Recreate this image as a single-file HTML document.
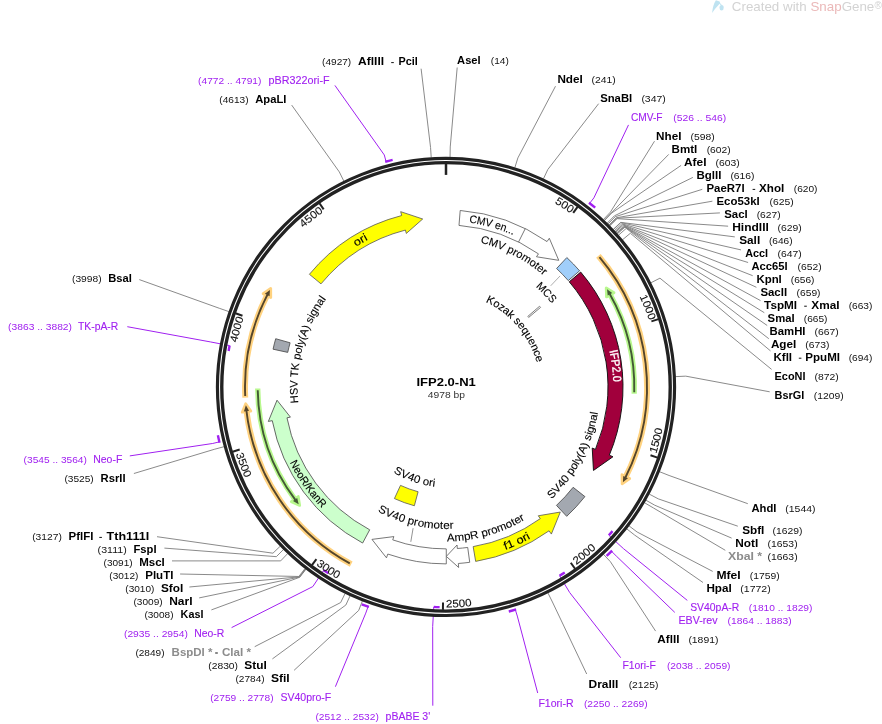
<!DOCTYPE html>
<html><head><meta charset="utf-8"><style>
html,body{margin:0;padding:0;background:#fff;}
svg{display:block;font-family:"Liberation Sans", sans-serif;will-change:transform;}
text{stroke-width:0.12px;paint-order:stroke;}
</style></head><body>
<svg width="882" height="724" viewBox="0 0 882 724">
<defs>
<path id="tp1" d="M 531.57 191.19 A 213.6 213.6 0 0 1 590.72 229.8"/>
<path id="tp2" d="M 626.2 272.22 A 213.6 213.6 0 0 1 655.91 347.35"/>
<path id="tp3" d="M 646.17 479.61 A 220.6 220.6 0 0 0 666.13 401.29"/>
<path id="tp4" d="M 552.91 579.86 A 220.6 220.6 0 0 0 615.24 528.4"/>
<path id="tp5" d="M 418.47 605.78 A 220.6 220.6 0 0 0 499.15 601"/>
<path id="tp6" d="M 294.63 547.37 A 220.6 220.6 0 0 0 362.59 591.12"/>
<path id="tp7" d="M 229.1 427.15 A 220.6 220.6 0 0 0 258.16 502.57"/>
<path id="tp8" d="M 233.05 370.21 A 213.6 213.6 0 0 1 254.49 292.31"/>
<path id="tp9" d="M 283.92 247.78 A 213.6 213.6 0 0 1 347.18 197.53"/>
<path id="tp10" d="M 435.27 221.25 A 166 166 0 0 1 542.41 251.76"/>
<path id="tp11" d="M 438.92 239.07 A 148 148 0 0 1 570.6 307.03"/>
<path id="tp12" d="M 514.15 270.94 A 134.5 134.5 0 0 1 566.01 326.17"/>
<path id="tp13" d="M 442.26 293.17 A 93.8 93.8 0 0 1 537.65 406.86"/>
<path id="tp14" d="M 600.58 322.65 A 167.4 167.4 0 0 1 611.62 411.27"/>
<path id="tp15" d="M 510.09 526.93 A 154 154 0 0 0 598.1 362.8"/>
<path id="tp16" d="M 477.91 557.44 A 173.5 173.5 0 0 0 554.25 522.49"/>
<path id="tp17" d="M 403.04 535.31 A 154.5 154.5 0 0 0 559.63 491.59"/>
<path id="tp18" d="M 343.05 484.7 A 142 142 0 0 0 496.12 519.76"/>
<path id="tp19" d="M 368.49 450.87 A 100.5 100.5 0 0 0 467.7 485.03"/>
<path id="tp20" d="M 277.44 427.99 A 173.5 173.5 0 0 0 350.24 531.58"/>
<path id="tp21" d="M 313.3 453.55 A 148.5 148.5 0 0 1 364.4 262.83"/>
<path id="tp22" d="M 336.69 261.31 A 166.5 166.5 0 0 1 390.25 230.01"/>
</defs>
<polyline points="450.06 157.14 450.24 146.94 457.2 67.5" fill="none" stroke="#7d7d7d" stroke-width="0.9"/>
<polyline points="514.83 167.65 517.88 157.92 555.5 86.2" fill="none" stroke="#7d7d7d" stroke-width="0.9"/>
<polyline points="543.46 178.79 547.79 169.55 598.6 103.7" fill="none" stroke="#7d7d7d" stroke-width="0.9"/>
<polyline points="603.44 219.51 610.43 212.08 654.5 141.2" fill="none" stroke="#7d7d7d" stroke-width="0.9"/>
<polyline points="604.29 220.31 611.31 212.91 668.7 154.4" fill="none" stroke="#7d7d7d" stroke-width="0.9"/>
<polyline points="604.5 220.51 611.53 213.12 681.1 165.4" fill="none" stroke="#7d7d7d" stroke-width="0.9"/>
<polyline points="607.21 223.13 614.36 215.86 692.9 177.4" fill="none" stroke="#7d7d7d" stroke-width="0.9"/>
<polyline points="608.03 223.95 615.22 216.71 702.3 189.3" fill="none" stroke="#7d7d7d" stroke-width="0.9"/>
<polyline points="609.06 224.97 616.29 217.78 712.4 201.2" fill="none" stroke="#7d7d7d" stroke-width="0.9"/>
<polyline points="609.46 225.38 616.72 218.21 719.9 212.9" fill="none" stroke="#7d7d7d" stroke-width="0.9"/>
<polyline points="609.87 225.8 617.15 218.65 728.1 226.2" fill="none" stroke="#7d7d7d" stroke-width="0.9"/>
<polyline points="613.29 229.35 620.72 222.36 734.8 236.9" fill="none" stroke="#7d7d7d" stroke-width="0.9"/>
<polyline points="613.49 229.56 620.92 222.58 741 249.9" fill="none" stroke="#7d7d7d" stroke-width="0.9"/>
<polyline points="614.48 230.62 621.96 223.68 748.1 262.5" fill="none" stroke="#7d7d7d" stroke-width="0.9"/>
<polyline points="615.27 231.47 622.78 224.58 752.7 275.7" fill="none" stroke="#7d7d7d" stroke-width="0.9"/>
<polyline points="615.85 232.12 623.39 225.25 756.4 287.3" fill="none" stroke="#7d7d7d" stroke-width="0.9"/>
<polyline points="616.63 232.98 624.21 226.14 760.5 300.6" fill="none" stroke="#7d7d7d" stroke-width="0.9"/>
<polyline points="617.02 233.41 624.61 226.59 764.3 312.7" fill="none" stroke="#7d7d7d" stroke-width="0.9"/>
<polyline points="617.41 233.84 625.02 227.05 767.2 325.5" fill="none" stroke="#7d7d7d" stroke-width="0.9"/>
<polyline points="618.56 235.14 626.22 228.41 768.8 338.7" fill="none" stroke="#7d7d7d" stroke-width="0.9"/>
<polyline points="622.52 239.77 630.36 233.24 770.5 350.9" fill="none" stroke="#7d7d7d" stroke-width="0.9"/>
<polyline points="650.87 282.79 659.96 278.17 771.6 369.4" fill="none" stroke="#7d7d7d" stroke-width="0.9"/>
<polyline points="675.57 376.61 685.76 376.15 769.7 391.8" fill="none" stroke="#7d7d7d" stroke-width="0.9"/>
<polyline points="659.57 471.72 669.05 475.48 747.8 503.7" fill="none" stroke="#7d7d7d" stroke-width="0.9"/>
<polyline points="649.26 494.1 658.29 498.86 737.8 526.2" fill="none" stroke="#7d7d7d" stroke-width="0.9"/>
<polyline points="645.92 500.21 654.8 505.23 731.6 538.1" fill="none" stroke="#7d7d7d" stroke-width="0.9"/>
<polyline points="644.48 502.72 653.29 507.86 725.3 550.3" fill="none" stroke="#7d7d7d" stroke-width="0.9"/>
<polyline points="629.02 525.86 637.15 532.03 712.7 571.4" fill="none" stroke="#7d7d7d" stroke-width="0.9"/>
<polyline points="626.72 528.85 634.74 535.15 703 582.5" fill="none" stroke="#7d7d7d" stroke-width="0.9"/>
<polyline points="603.44 554.29 610.43 561.72 655.6 631.1" fill="none" stroke="#7d7d7d" stroke-width="0.9"/>
<polyline points="547.9 592.87 552.43 602.01 586.7 674" fill="none" stroke="#7d7d7d" stroke-width="0.9"/>
<polyline points="362.4 600.95 358.69 610.45 294.1 670.3" fill="none" stroke="#7d7d7d" stroke-width="0.9"/>
<polyline points="350.12 595.74 345.86 605.01 272.4 658.9" fill="none" stroke="#7d7d7d" stroke-width="0.9"/>
<polyline points="345.14 593.38 340.66 602.55 254.7 646.7" fill="none" stroke="#7d7d7d" stroke-width="0.9"/>
<polyline points="306 569.13 299.79 577.22 211.4 609.9" fill="none" stroke="#7d7d7d" stroke-width="0.9"/>
<polyline points="305.77 568.95 299.55 577.04 199.2 597.9" fill="none" stroke="#7d7d7d" stroke-width="0.9"/>
<polyline points="305.54 568.78 299.31 576.85 189.4 587" fill="none" stroke="#7d7d7d" stroke-width="0.9"/>
<polyline points="305.08 568.42 298.83 576.48 180.1 574" fill="none" stroke="#7d7d7d" stroke-width="0.9"/>
<polyline points="287.71 553.49 280.69 560.89 172 560.9" fill="none" stroke="#7d7d7d" stroke-width="0.9"/>
<polyline points="283.56 549.44 276.35 556.66 164.4 548.1" fill="none" stroke="#7d7d7d" stroke-width="0.9"/>
<polyline points="280.31 546.13 272.95 553.2 157 536.7" fill="none" stroke="#7d7d7d" stroke-width="0.9"/>
<polyline points="224.11 446.68 214.26 449.33 133.9 473.5" fill="none" stroke="#7d7d7d" stroke-width="0.9"/>
<polyline points="228.89 311.6 219.25 308.26 139.3 279.6" fill="none" stroke="#7d7d7d" stroke-width="0.9"/>
<polyline points="343.84 181.06 339.3 171.92 291.7 105.1" fill="none" stroke="#7d7d7d" stroke-width="0.9"/>
<polyline points="431.22 157.58 430.56 147.4 421.1 68.7" fill="none" stroke="#7d7d7d" stroke-width="0.9"/>
<polyline points="589.7 203.23 593.89 197.88 628.5 124.9" fill="none" stroke="#A020F0" stroke-width="1.0"/>
<path d="M 588.99 202.68 A 233.2 233.2 0 0 1 595.21 207.68" fill="none" stroke="#A020F0" stroke-width="2.4"/>
<polyline points="608.83 535.28 623.39 548.55 687.3 600.4" fill="none" stroke="#A020F0" stroke-width="1.0"/>
<path d="M 612.52 531.13 A 220.3 220.3 0 0 1 608.83 535.28" fill="none" stroke="#A020F0" stroke-width="2.4"/>
<polyline points="611.47 551.22 616.29 556.02 674.8 612.4" fill="none" stroke="#A020F0" stroke-width="1.0"/>
<path d="M 612.1 550.58 A 233.2 233.2 0 0 1 606.62 555.97" fill="none" stroke="#A020F0" stroke-width="2.4"/>
<polyline points="559.54 575.69 569.7 592.57 620.7 657.7" fill="none" stroke="#A020F0" stroke-width="1.0"/>
<path d="M 564.74 572.46 A 220.3 220.3 0 0 1 559.54 575.69" fill="none" stroke="#A020F0" stroke-width="2.4"/>
<polyline points="515.29 609.57 517.31 616.06 537.7 693" fill="none" stroke="#A020F0" stroke-width="1.0"/>
<path d="M 516.14 609.3 A 233.2 233.2 0 0 1 508.78 611.49" fill="none" stroke="#A020F0" stroke-width="2.4"/>
<polyline points="433.77 606.86 432.68 626.53 432.8 705.7" fill="none" stroke="#A020F0" stroke-width="1.0"/>
<path d="M 439.61 607.11 A 220.3 220.3 0 0 1 433.77 606.86" fill="none" stroke="#A020F0" stroke-width="2.4"/>
<polyline points="368.06 606.69 365.78 613.1 335.4 686.7" fill="none" stroke="#A020F0" stroke-width="1.0"/>
<path d="M 368.91 606.99 A 233.2 233.2 0 0 1 361.69 604.33" fill="none" stroke="#A020F0" stroke-width="2.4"/>
<polyline points="323.77 570.18 312.84 586.57 231.6 627.6" fill="none" stroke="#A020F0" stroke-width="1.0"/>
<path d="M 328.43 573.21 A 220.3 220.3 0 0 1 323.77 570.18" fill="none" stroke="#A020F0" stroke-width="2.4"/>
<polyline points="219.37 441.86 212.76 443.46 129.8 455.9" fill="none" stroke="#A020F0" stroke-width="1.0"/>
<path d="M 219.58 442.74 A 233.2 233.2 0 0 1 217.87 435.24" fill="none" stroke="#A020F0" stroke-width="2.4"/>
<polyline points="229.61 345.58 210.26 341.88 127.3 326.7" fill="none" stroke="#A020F0" stroke-width="1.0"/>
<path d="M 228.64 351.05 A 220.3 220.3 0 0 1 229.61 345.58" fill="none" stroke="#A020F0" stroke-width="2.4"/>
<polyline points="386.05 161.54 384.3 154.97 334.9 85.4" fill="none" stroke="#A020F0" stroke-width="1.0"/>
<path d="M 385.18 161.77 A 233.2 233.2 0 0 1 392.63 159.89" fill="none" stroke="#A020F0" stroke-width="2.4"/>
<circle cx="446" cy="386.9" r="226.35" fill="none" stroke="#222" stroke-width="7.6"/>
<circle cx="446" cy="386.9" r="226.45" fill="none" stroke="#fff" stroke-width="1.05"/>
<line x1="446" y1="163.9" x2="446" y2="174.9" stroke="#222" stroke-width="2.5"/>
<line x1="577.58" y1="206.85" x2="573.21" y2="212.83" stroke="#222" stroke-width="2.0"/>
<text font-size="10.8" fill="#111" stroke="#111"><textPath href="#tp1" startOffset="50%" text-anchor="middle" textLength="19.35" lengthAdjust="spacingAndGlyphs">500</textPath></text>
<line x1="658.47" y1="319.17" x2="651.41" y2="321.42" stroke="#222" stroke-width="2.0"/>
<text font-size="10.8" fill="#111" stroke="#111"><textPath href="#tp2" startOffset="50%" text-anchor="middle" textLength="25.8" lengthAdjust="spacingAndGlyphs">1000</textPath></text>
<line x1="657.5" y1="457.58" x2="650.49" y2="455.23" stroke="#222" stroke-width="2.0"/>
<text font-size="10.8" fill="#111" stroke="#111"><textPath href="#tp3" startOffset="50%" text-anchor="middle" textLength="25.8" lengthAdjust="spacingAndGlyphs">1500</textPath></text>
<line x1="575.06" y1="568.76" x2="570.78" y2="562.72" stroke="#222" stroke-width="2.0"/>
<text font-size="10.8" fill="#111" stroke="#111"><textPath href="#tp4" startOffset="50%" text-anchor="middle" textLength="25.8" lengthAdjust="spacingAndGlyphs">2000</textPath></text>
<line x1="442.9" y1="609.88" x2="443.01" y2="602.48" stroke="#222" stroke-width="2.0"/>
<text font-size="10.8" fill="#111" stroke="#111"><textPath href="#tp5" startOffset="50%" text-anchor="middle" textLength="25.8" lengthAdjust="spacingAndGlyphs">2500</textPath></text>
<line x1="311.94" y1="565.1" x2="316.39" y2="559.19" stroke="#222" stroke-width="2.0"/>
<text font-size="10.8" fill="#111" stroke="#111"><textPath href="#tp6" startOffset="50%" text-anchor="middle" textLength="25.8" lengthAdjust="spacingAndGlyphs">3000</textPath></text>
<line x1="232.62" y1="451.68" x2="239.7" y2="449.53" stroke="#222" stroke-width="2.0"/>
<text font-size="10.8" fill="#111" stroke="#111"><textPath href="#tp7" startOffset="50%" text-anchor="middle" textLength="25.8" lengthAdjust="spacingAndGlyphs">3500</textPath></text>
<line x1="235.5" y1="313.3" x2="242.48" y2="315.74" stroke="#222" stroke-width="2.0"/>
<text font-size="10.8" fill="#111" stroke="#111"><textPath href="#tp8" startOffset="50%" text-anchor="middle" textLength="25.8" lengthAdjust="spacingAndGlyphs">4000</textPath></text>
<line x1="319.47" y1="203.27" x2="323.67" y2="209.36" stroke="#222" stroke-width="2.0"/>
<text font-size="10.8" fill="#111" stroke="#111"><textPath href="#tp9" startOffset="50%" text-anchor="middle" textLength="25.8" lengthAdjust="spacingAndGlyphs">4500</textPath></text>
<path d="M 598.39 255.84 A 201 201 0 0 1 625.85 476.65" fill="none" stroke="#FFD27F" stroke-width="5.9"/>
<path d="M 629.7 478.57 L 622.14 483.73 L 622 474.73 Z" fill="#FFD27F" stroke="#FFD27F" stroke-width="2.8" stroke-linejoin="round"/>
<path d="M 599.43 257.06 A 201 201 0 0 1 625.4 477.54" fill="none" stroke="#54452B" stroke-width="1.9"/>
<path d="M 627.91 478.35 L 622.9 482.33 L 623.26 476.02 Z" fill="#54452B"/>
<path d="M 351.19 564.13 A 201 201 0 0 1 246.53 411.68" fill="none" stroke="#FFD27F" stroke-width="5.9"/>
<path d="M 242.27 412.21 L 245.7 403.72 L 250.8 411.15 Z" fill="#FFD27F" stroke="#FFD27F" stroke-width="2.8" stroke-linejoin="round"/>
<path d="M 349.78 563.37 A 201 201 0 0 1 246.41 410.68" fill="none" stroke="#54452B" stroke-width="1.9"/>
<path d="M 243.88 411.39 L 245.85 405.31 L 249.04 410.77 Z" fill="#54452B"/>
<path d="M 245.29 397.62 A 201 201 0 0 1 266.94 295.59" fill="none" stroke="#FFD27F" stroke-width="5.9"/>
<path d="M 263.11 293.63 L 270.71 288.53 L 270.77 297.54 Z" fill="#FFD27F" stroke="#FFD27F" stroke-width="2.8" stroke-linejoin="round"/>
<path d="M 245.21 396.02 A 201 201 0 0 1 267.4 294.7" fill="none" stroke="#54452B" stroke-width="1.9"/>
<path d="M 264.9 293.86 L 269.94 289.93 L 269.52 296.24 Z" fill="#54452B"/>
<path d="M 634.18 393.76 A 188.3 188.3 0 0 0 610.27 294.85" fill="none" stroke="#B8F88E" stroke-width="5.3"/>
<path d="M 614.02 292.75 L 606.21 287.95 L 606.51 296.95 Z" fill="#B8F88E" stroke="#B8F88E" stroke-width="2.8" stroke-linejoin="round"/>
<path d="M 634.23 392.16 A 188.3 188.3 0 0 0 609.77 293.98" fill="none" stroke="#435A35" stroke-width="1.9"/>
<path d="M 612.24 293.05 L 607.04 289.32 L 607.71 295.6 Z" fill="#435A35"/>
<path d="M 257.71 388.59 A 188.3 188.3 0 0 0 294.76 499.08" fill="none" stroke="#B8F88E" stroke-width="5.3"/>
<path d="M 291.31 501.64 L 299.66 505.4 L 298.22 496.52 Z" fill="#B8F88E" stroke="#B8F88E" stroke-width="2.8" stroke-linejoin="round"/>
<path d="M 257.73 390.19 A 188.3 188.3 0 0 0 295.36 499.88" fill="none" stroke="#435A35" stroke-width="1.9"/>
<path d="M 293.04 501.12 L 298.66 504.15 L 297.2 498 Z" fill="#435A35"/>
<path d="M 460.2 210.47 A 177 177 0 0 1 547.02 241.56 L 549.3 238.27 L 558.76 260.34 L 536.46 256.75 L 538.46 253.87 A 162 162 0 0 0 458.99 225.42 Z" fill="#fff" stroke="#555" stroke-width="0.8" stroke-linejoin="miter"/>
<line x1="518.54" y1="242.05" x2="525.25" y2="228.63" stroke="#555" stroke-width="0.8"/>
<path d="M 566.83 257.56 A 177 177 0 0 1 579.58 270.78 L 568.26 280.62 A 162 162 0 0 0 556.59 268.52 Z" fill="#A0CEFA" stroke="#444" stroke-width="0.8" stroke-linejoin="miter"/>
<path d="M 580.69 272.07 A 177 177 0 0 1 609.29 455.21 L 612.98 456.75 L 593.48 470.44 L 592.22 448.07 L 595.45 449.42 A 162 162 0 0 0 569.28 281.8 Z" fill="#A1003C" stroke="#111" stroke-width="0.95" stroke-linejoin="miter"/>
<path d="M 584.91 496.6 A 177 177 0 0 1 566.71 516.35 L 556.48 505.38 A 162 162 0 0 0 573.13 487.3 Z" fill="#A3A8B0" stroke="#444" stroke-width="0.8" stroke-linejoin="miter"/>
<path d="M 475.67 561.4 A 177 177 0 0 0 549.04 530.82 L 551.36 534.07 L 560.29 512.07 L 538.27 515.78 L 540.3 518.62 A 162 162 0 0 1 473.16 546.61 Z" fill="#FFFF00" stroke="#555" stroke-width="0.8" stroke-linejoin="miter"/>
<path d="M 469.72 562.3 A 177 177 0 0 1 458.35 563.47 L 458.63 567.46 L 446.3 556.4 L 457.06 545.01 L 457.3 548.51 A 162 162 0 0 0 467.71 547.44 Z" fill="#fff" stroke="#555" stroke-width="0.8" stroke-linejoin="miter"/>
<path d="M 446.31 563.9 A 177 177 0 0 1 387.79 554.05 L 386.48 557.83 L 371.96 539.38 L 393.87 536.58 L 392.72 539.89 A 162 162 0 0 0 446.28 548.9 Z" fill="#fff" stroke="#555" stroke-width="0.8" stroke-linejoin="miter"/>
<path d="M 362.63 543.04 A 177 177 0 0 1 272.25 420.67 L 268.33 421.44 L 277.02 400.2 L 290.41 417.14 L 286.98 417.81 A 162 162 0 0 0 369.7 529.8 Z" fill="#CCFFCC" stroke="#444" stroke-width="0.8" stroke-linejoin="miter"/>
<path d="M 273.06 349.19 A 177 177 0 0 1 275.69 338.71 L 290.12 342.79 A 162 162 0 0 0 287.72 352.39 Z" fill="#A3A8B0" stroke="#444" stroke-width="0.8" stroke-linejoin="miter"/>
<path d="M 309.42 274.31 A 177 177 0 0 1 401.68 215.54 L 400.68 211.67 L 422.7 219.01 L 406.31 233.45 L 405.44 230.06 A 162 162 0 0 0 321 283.86 Z" fill="#FFFF00" stroke="#555" stroke-width="0.8" stroke-linejoin="miter"/>
<path d="M 414.37 505.76 A 123 123 0 0 1 394.41 498.56 L 400.49 485.39 A 108.5 108.5 0 0 0 418.1 491.75 Z" fill="#FFFF00" stroke="#555" stroke-width="0.8" stroke-linejoin="miter"/>
<path d="M 539.56 306.28 A 123.5 123.5 0 0 1 540.54 307.43 L 528.67 317.41 A 108 108 0 0 0 527.82 316.4 Z" fill="#fff" stroke="#666" stroke-width="0.85" stroke-linejoin="miter"/>
<line x1="550.7" y1="285.8" x2="560.1" y2="275.9" stroke="#999" stroke-width="0.8"/>
<line x1="410.8" y1="541.8" x2="413.1" y2="528.2" stroke="#777" stroke-width="0.8"/>
<text font-size="11" stroke="#000"><textPath href="#tp10" startOffset="50%" text-anchor="middle" textLength="46" lengthAdjust="spacingAndGlyphs">CMV en...</textPath></text>
<text font-size="11" stroke="#000"><textPath href="#tp11" startOffset="50%" text-anchor="middle" textLength="72" lengthAdjust="spacingAndGlyphs">CMV promoter</textPath></text>
<text font-size="11" stroke="#000"><textPath href="#tp12" startOffset="50%" text-anchor="middle" textLength="23" lengthAdjust="spacingAndGlyphs">MCS</textPath></text>
<text font-size="11" stroke="#000"><textPath href="#tp13" startOffset="50%" text-anchor="middle" textLength="82" lengthAdjust="spacingAndGlyphs">Kozak sequence</textPath></text>
<text font-size="11.6" fill="#ffffff" stroke="#ffffff" style="stroke-width:0.35px"><textPath href="#tp14" startOffset="50%" text-anchor="middle" textLength="31.5" lengthAdjust="spacingAndGlyphs">IFP2.0</textPath></text>
<text font-size="11" stroke="#000"><textPath href="#tp15" startOffset="50%" text-anchor="middle" textLength="100" lengthAdjust="spacingAndGlyphs">SV40 poly(A) signal</textPath></text>
<text font-size="11" stroke="#000"><textPath href="#tp16" startOffset="50%" text-anchor="middle" textLength="28" lengthAdjust="spacingAndGlyphs">f1 ori</textPath></text>
<text font-size="11" stroke="#000"><textPath href="#tp17" startOffset="50%" text-anchor="middle" textLength="82" lengthAdjust="spacingAndGlyphs">AmpR promoter</textPath></text>
<text font-size="11" stroke="#000"><textPath href="#tp18" startOffset="50%" text-anchor="middle" textLength="79" lengthAdjust="spacingAndGlyphs">SV40 promoter</textPath></text>
<text font-size="11" stroke="#000"><textPath href="#tp19" startOffset="50%" text-anchor="middle" textLength="44" lengthAdjust="spacingAndGlyphs">SV40 ori</textPath></text>
<text font-size="11" stroke="#000"><textPath href="#tp20" startOffset="50%" text-anchor="middle" textLength="56" lengthAdjust="spacingAndGlyphs">NeoR/KanR</textPath></text>
<text font-size="11" stroke="#000"><textPath href="#tp21" startOffset="50%" text-anchor="middle" textLength="110" lengthAdjust="spacingAndGlyphs">HSV TK poly(A) signal</textPath></text>
<text font-size="11" stroke="#000"><textPath href="#tp22" startOffset="50%" text-anchor="middle" textLength="14" lengthAdjust="spacingAndGlyphs">ori</textPath></text>
<text x="457.1" y="63.9" font-size="10.7" font-weight="bold" textLength="23.5" lengthAdjust="spacingAndGlyphs">AseI</text>
<text x="490.8" y="63.9" font-size="9.3" fill="#111" textLength="18" lengthAdjust="spacingAndGlyphs">(14)</text>
<text x="557.4" y="83.2" font-size="10.7" font-weight="bold" textLength="25.4" lengthAdjust="spacingAndGlyphs">NdeI</text>
<text x="591.5" y="83.2" font-size="9.3" fill="#111" textLength="24.2" lengthAdjust="spacingAndGlyphs">(241)</text>
<text x="600.2" y="102.1" font-size="10.7" font-weight="bold" textLength="32" lengthAdjust="spacingAndGlyphs">SnaBI</text>
<text x="641.4" y="102.1" font-size="9.3" fill="#111" textLength="24.4" lengthAdjust="spacingAndGlyphs">(347)</text>
<text x="656.1" y="139.6" font-size="10.7" font-weight="bold" textLength="25.4" lengthAdjust="spacingAndGlyphs">NheI</text>
<text x="690.5" y="139.6" font-size="9.3" fill="#111" textLength="24.2" lengthAdjust="spacingAndGlyphs">(598)</text>
<text x="671.6" y="152.6" font-size="10.7" font-weight="bold" textLength="25.7" lengthAdjust="spacingAndGlyphs">BmtI</text>
<text x="706.7" y="152.6" font-size="9.3" fill="#111" textLength="24" lengthAdjust="spacingAndGlyphs">(602)</text>
<text x="684" y="165.7" font-size="10.7" font-weight="bold" textLength="22.5" lengthAdjust="spacingAndGlyphs">AfeI</text>
<text x="715.5" y="165.7" font-size="9.3" fill="#111" textLength="24.2" lengthAdjust="spacingAndGlyphs">(603)</text>
<text x="696.5" y="178.7" font-size="10.7" font-weight="bold" textLength="24.9" lengthAdjust="spacingAndGlyphs">BglII</text>
<text x="730.4" y="178.7" font-size="9.3" fill="#111" textLength="24.2" lengthAdjust="spacingAndGlyphs">(616)</text>
<text x="706.5" y="191.9" font-size="10.7" font-weight="bold" textLength="38.1" lengthAdjust="spacingAndGlyphs">PaeR7I</text>
<rect x="752.6" y="188.9" width="2.6" height="1.0" fill="#111"/>
<text x="759.1" y="191.9" font-size="10.7" font-weight="bold" textLength="25.2" lengthAdjust="spacingAndGlyphs">XhoI</text>
<text x="793.8" y="191.9" font-size="9.3" fill="#111" textLength="23.7" lengthAdjust="spacingAndGlyphs">(620)</text>
<text x="716.5" y="204.7" font-size="10.7" font-weight="bold" textLength="43.2" lengthAdjust="spacingAndGlyphs">Eco53kI</text>
<text x="769.6" y="204.7" font-size="9.3" fill="#111" textLength="24.2" lengthAdjust="spacingAndGlyphs">(625)</text>
<text x="724.2" y="217.6" font-size="10.7" font-weight="bold" textLength="23.5" lengthAdjust="spacingAndGlyphs">SacI</text>
<text x="756.7" y="217.6" font-size="9.3" fill="#111" textLength="23.9" lengthAdjust="spacingAndGlyphs">(627)</text>
<text x="732.2" y="230.7" font-size="10.7" font-weight="bold" textLength="36.7" lengthAdjust="spacingAndGlyphs">HindIII</text>
<text x="777.6" y="230.7" font-size="9.3" fill="#111" textLength="24.2" lengthAdjust="spacingAndGlyphs">(629)</text>
<text x="739.2" y="243.7" font-size="10.7" font-weight="bold" textLength="21" lengthAdjust="spacingAndGlyphs">SalI</text>
<text x="768.9" y="243.7" font-size="9.3" fill="#111" textLength="23.7" lengthAdjust="spacingAndGlyphs">(646)</text>
<text x="745.2" y="256.9" font-size="10.7" font-weight="bold" textLength="22.9" lengthAdjust="spacingAndGlyphs">AccI</text>
<text x="777.6" y="256.9" font-size="9.3" fill="#111" textLength="24.2" lengthAdjust="spacingAndGlyphs">(647)</text>
<text x="751.4" y="269.7" font-size="10.7" font-weight="bold" textLength="36.2" lengthAdjust="spacingAndGlyphs">Acc65I</text>
<text x="797.6" y="269.7" font-size="9.3" fill="#111" textLength="24.1" lengthAdjust="spacingAndGlyphs">(652)</text>
<text x="756.4" y="282.6" font-size="10.7" font-weight="bold" textLength="25.4" lengthAdjust="spacingAndGlyphs">KpnI</text>
<text x="790.8" y="282.6" font-size="9.3" fill="#111" textLength="23.7" lengthAdjust="spacingAndGlyphs">(656)</text>
<text x="760.4" y="295.7" font-size="10.7" font-weight="bold" textLength="26.7" lengthAdjust="spacingAndGlyphs">SacII</text>
<text x="796.6" y="295.7" font-size="9.3" fill="#111" textLength="23.9" lengthAdjust="spacingAndGlyphs">(659)</text>
<text x="764.1" y="308.7" font-size="10.7" font-weight="bold" textLength="33" lengthAdjust="spacingAndGlyphs">TspMI</text>
<rect x="804.2" y="305.7" width="2.6" height="1.0" fill="#111"/>
<text x="811.3" y="308.7" font-size="10.7" font-weight="bold" textLength="28.2" lengthAdjust="spacingAndGlyphs">XmaI</text>
<text x="848.7" y="308.7" font-size="9.3" fill="#111" textLength="23.7" lengthAdjust="spacingAndGlyphs">(663)</text>
<text x="767.6" y="321.9" font-size="10.7" font-weight="bold" textLength="27" lengthAdjust="spacingAndGlyphs">SmaI</text>
<text x="803.8" y="321.9" font-size="9.3" fill="#111" textLength="23.7" lengthAdjust="spacingAndGlyphs">(665)</text>
<text x="769.6" y="334.7" font-size="10.7" font-weight="bold" textLength="35.9" lengthAdjust="spacingAndGlyphs">BamHI</text>
<text x="814.5" y="334.7" font-size="9.3" fill="#111" textLength="24.2" lengthAdjust="spacingAndGlyphs">(667)</text>
<text x="770.9" y="347.6" font-size="10.7" font-weight="bold" textLength="25.4" lengthAdjust="spacingAndGlyphs">AgeI</text>
<text x="805.3" y="347.6" font-size="9.3" fill="#111" textLength="24.2" lengthAdjust="spacingAndGlyphs">(673)</text>
<text x="773.4" y="360.7" font-size="10.7" font-weight="bold" textLength="18.7" lengthAdjust="spacingAndGlyphs">KflI</text>
<rect x="798.8" y="357.7" width="2.6" height="1.0" fill="#111"/>
<text x="805.3" y="360.7" font-size="10.7" font-weight="bold" textLength="34.7" lengthAdjust="spacingAndGlyphs">PpuMI</text>
<text x="848.7" y="360.7" font-size="9.3" fill="#111" textLength="23.7" lengthAdjust="spacingAndGlyphs">(694)</text>
<text x="774.6" y="380" font-size="10.7" font-weight="bold" textLength="30.9" lengthAdjust="spacingAndGlyphs">EcoNI</text>
<text x="814.5" y="380" font-size="9.3" fill="#111" textLength="24.2" lengthAdjust="spacingAndGlyphs">(872)</text>
<text x="774.6" y="398.9" font-size="10.7" font-weight="bold" textLength="29.7" lengthAdjust="spacingAndGlyphs">BsrGI</text>
<text x="813.8" y="398.9" font-size="9.3" fill="#111" textLength="29.9" lengthAdjust="spacingAndGlyphs">(1209)</text>
<text x="751.4" y="512" font-size="10.7" font-weight="bold" textLength="25" lengthAdjust="spacingAndGlyphs">AhdI</text>
<text x="785.3" y="512" font-size="9.3" fill="#111" textLength="30.2" lengthAdjust="spacingAndGlyphs">(1544)</text>
<text x="742.2" y="533.7" font-size="10.7" font-weight="bold" textLength="22.2" lengthAdjust="spacingAndGlyphs">SbfI</text>
<text x="772.6" y="533.7" font-size="9.3" fill="#111" textLength="29.9" lengthAdjust="spacingAndGlyphs">(1629)</text>
<text x="735.2" y="547" font-size="10.7" font-weight="bold" textLength="23" lengthAdjust="spacingAndGlyphs">NotI</text>
<text x="767.6" y="547" font-size="9.3" fill="#111" textLength="30" lengthAdjust="spacingAndGlyphs">(1653)</text>
<text x="728" y="559.9" font-size="10.7" font-weight="bold" fill="#8c8c8c" textLength="34.1" lengthAdjust="spacingAndGlyphs">XbaI *</text>
<text x="767.6" y="559.9" font-size="9.3" fill="#111" textLength="30" lengthAdjust="spacingAndGlyphs">(1663)</text>
<text x="716.5" y="578.6" font-size="10.7" font-weight="bold" textLength="24.2" lengthAdjust="spacingAndGlyphs">MfeI</text>
<text x="749.7" y="578.6" font-size="9.3" fill="#111" textLength="29.9" lengthAdjust="spacingAndGlyphs">(1759)</text>
<text x="706.4" y="592" font-size="10.7" font-weight="bold" textLength="25.4" lengthAdjust="spacingAndGlyphs">HpaI</text>
<text x="740.3" y="592" font-size="9.3" fill="#111" textLength="30.4" lengthAdjust="spacingAndGlyphs">(1772)</text>
<text x="657.3" y="643.2" font-size="10.7" font-weight="bold" textLength="22.1" lengthAdjust="spacingAndGlyphs">AflII</text>
<text x="688.4" y="643.2" font-size="9.3" fill="#111" textLength="30" lengthAdjust="spacingAndGlyphs">(1891)</text>
<text x="588.5" y="687.7" font-size="10.7" font-weight="bold" textLength="29.9" lengthAdjust="spacingAndGlyphs">DraIII</text>
<text x="628.7" y="687.7" font-size="9.3" fill="#111" textLength="29.7" lengthAdjust="spacingAndGlyphs">(2125)</text>
<text x="235.5" y="682.2" font-size="9.3" fill="#111" textLength="29.1" lengthAdjust="spacingAndGlyphs">(2784)</text>
<text x="270.9" y="682.2" font-size="10.7" font-weight="bold" textLength="18.8" lengthAdjust="spacingAndGlyphs">SfiI</text>
<text x="208.3" y="669.1" font-size="9.3" fill="#111" textLength="29.7" lengthAdjust="spacingAndGlyphs">(2830)</text>
<text x="244.3" y="669.1" font-size="10.7" font-weight="bold" textLength="22.5" lengthAdjust="spacingAndGlyphs">StuI</text>
<text x="135.4" y="655.5" font-size="9.3" fill="#111" textLength="29.1" lengthAdjust="spacingAndGlyphs">(2849)</text>
<text x="171.6" y="655.5" font-size="10.7" font-weight="bold" fill="#8c8c8c" textLength="40.8" lengthAdjust="spacingAndGlyphs">BspDI *</text>
<rect x="215.2" y="652.5" width="2.6" height="1.0" fill="#111"/>
<text x="221.9" y="655.5" font-size="10.7" font-weight="bold" fill="#8c8c8c" textLength="29.1" lengthAdjust="spacingAndGlyphs">ClaI *</text>
<text x="144.4" y="617.9" font-size="9.3" fill="#111" textLength="29.1" lengthAdjust="spacingAndGlyphs">(3008)</text>
<text x="180.6" y="617.9" font-size="10.7" font-weight="bold" textLength="22.8" lengthAdjust="spacingAndGlyphs">KasI</text>
<text x="133.5" y="604.8" font-size="9.3" fill="#111" textLength="29.1" lengthAdjust="spacingAndGlyphs">(3009)</text>
<text x="169.2" y="604.8" font-size="10.7" font-weight="bold" textLength="23.3" lengthAdjust="spacingAndGlyphs">NarI</text>
<text x="125.3" y="592" font-size="9.3" fill="#111" textLength="29.1" lengthAdjust="spacingAndGlyphs">(3010)</text>
<text x="161" y="592" font-size="10.7" font-weight="bold" textLength="22.3" lengthAdjust="spacingAndGlyphs">SfoI</text>
<text x="109.3" y="579" font-size="9.3" fill="#111" textLength="29.1" lengthAdjust="spacingAndGlyphs">(3012)</text>
<text x="145.2" y="579" font-size="10.7" font-weight="bold" textLength="28.2" lengthAdjust="spacingAndGlyphs">PluTI</text>
<text x="103.6" y="566.2" font-size="9.3" fill="#111" textLength="29" lengthAdjust="spacingAndGlyphs">(3091)</text>
<text x="139.2" y="566.2" font-size="10.7" font-weight="bold" textLength="25.6" lengthAdjust="spacingAndGlyphs">MscI</text>
<text x="97.6" y="553.1" font-size="9.3" fill="#111" textLength="29.1" lengthAdjust="spacingAndGlyphs">(3111)</text>
<text x="133.5" y="553.1" font-size="10.7" font-weight="bold" textLength="23.1" lengthAdjust="spacingAndGlyphs">FspI</text>
<text x="32.2" y="539.9" font-size="9.3" fill="#111" textLength="29.6" lengthAdjust="spacingAndGlyphs">(3127)</text>
<text x="68.5" y="539.9" font-size="10.7" font-weight="bold" textLength="24.9" lengthAdjust="spacingAndGlyphs">PflFI</text>
<rect x="99.3" y="536.9" width="2.6" height="1.0" fill="#111"/>
<text x="106.6" y="539.9" font-size="10.7" font-weight="bold" textLength="42.6" lengthAdjust="spacingAndGlyphs">Tth111I</text>
<text x="64.4" y="481.8" font-size="9.3" fill="#111" textLength="29.3" lengthAdjust="spacingAndGlyphs">(3525)</text>
<text x="100.6" y="481.8" font-size="10.7" font-weight="bold" textLength="25" lengthAdjust="spacingAndGlyphs">RsrII</text>
<text x="72" y="281.9" font-size="9.3" fill="#111" textLength="29.6" lengthAdjust="spacingAndGlyphs">(3998)</text>
<text x="108.2" y="281.9" font-size="10.7" font-weight="bold" textLength="23.6" lengthAdjust="spacingAndGlyphs">BsaI</text>
<text x="219.3" y="103" font-size="9.3" fill="#111" textLength="29.2" lengthAdjust="spacingAndGlyphs">(4613)</text>
<text x="255.2" y="103" font-size="10.7" font-weight="bold" textLength="31.2" lengthAdjust="spacingAndGlyphs">ApaLI</text>
<text x="322.1" y="65.1" font-size="9.3" fill="#111" textLength="29.1" lengthAdjust="spacingAndGlyphs">(4927)</text>
<text x="358.1" y="65.1" font-size="10.7" font-weight="bold" textLength="26" lengthAdjust="spacingAndGlyphs">AflIII</text>
<rect x="391.2" y="62.1" width="2.6" height="1.0" fill="#111"/>
<text x="398.5" y="65.1" font-size="10.7" font-weight="bold" textLength="19.2" lengthAdjust="spacingAndGlyphs">PciI</text>
<text x="630.9" y="121.2" font-size="11" fill="#A020F0" stroke="#A020F0" textLength="31.7" lengthAdjust="spacingAndGlyphs">CMV-F</text>
<text x="673.3" y="121.2" font-size="9.3" fill="#A020F0" textLength="52.9" lengthAdjust="spacingAndGlyphs">(526 .. 546)</text>
<text x="690.2" y="610.7" font-size="11" fill="#A020F0" stroke="#A020F0" textLength="49.1" lengthAdjust="spacingAndGlyphs">SV40pA-R</text>
<text x="748.8" y="610.7" font-size="9.3" fill="#A020F0" textLength="63.6" lengthAdjust="spacingAndGlyphs">(1810 .. 1829)</text>
<text x="678.5" y="623.7" font-size="11" fill="#A020F0" stroke="#A020F0" textLength="39.1" lengthAdjust="spacingAndGlyphs">EBV-rev</text>
<text x="727.6" y="623.7" font-size="9.3" fill="#A020F0" textLength="64.1" lengthAdjust="spacingAndGlyphs">(1864 .. 1883)</text>
<text x="622.5" y="668.7" font-size="11" fill="#A020F0" stroke="#A020F0" textLength="33.4" lengthAdjust="spacingAndGlyphs">F1ori-F</text>
<text x="666.9" y="668.7" font-size="9.3" fill="#A020F0" textLength="63.6" lengthAdjust="spacingAndGlyphs">(2038 .. 2059)</text>
<text x="538.4" y="706.8" font-size="11" fill="#A020F0" stroke="#A020F0" textLength="35.1" lengthAdjust="spacingAndGlyphs">F1ori-R</text>
<text x="583.9" y="706.8" font-size="9.3" fill="#A020F0" textLength="63.8" lengthAdjust="spacingAndGlyphs">(2250 .. 2269)</text>
<text x="315.4" y="720.2" font-size="9.3" fill="#A020F0" textLength="63.4" lengthAdjust="spacingAndGlyphs">(2512 .. 2532)</text>
<text x="385.6" y="720.2" font-size="11" fill="#A020F0" stroke="#A020F0" textLength="44.6" lengthAdjust="spacingAndGlyphs">pBABE 3&#39;</text>
<text x="210.2" y="700.9" font-size="9.3" fill="#A020F0" textLength="63.4" lengthAdjust="spacingAndGlyphs">(2759 .. 2778)</text>
<text x="280.4" y="700.9" font-size="11" fill="#A020F0" stroke="#A020F0" textLength="50.9" lengthAdjust="spacingAndGlyphs">SV40pro-F</text>
<text x="124" y="637.2" font-size="9.3" fill="#A020F0" textLength="63.9" lengthAdjust="spacingAndGlyphs">(2935 .. 2954)</text>
<text x="194.2" y="637.2" font-size="11" fill="#A020F0" stroke="#A020F0" textLength="30.1" lengthAdjust="spacingAndGlyphs">Neo-R</text>
<text x="23.6" y="462.8" font-size="9.3" fill="#A020F0" textLength="63.3" lengthAdjust="spacingAndGlyphs">(3545 .. 3564)</text>
<text x="93.2" y="462.8" font-size="11" fill="#A020F0" stroke="#A020F0" textLength="29.1" lengthAdjust="spacingAndGlyphs">Neo-F</text>
<text x="8.1" y="329.5" font-size="9.3" fill="#A020F0" textLength="63.9" lengthAdjust="spacingAndGlyphs">(3863 .. 3882)</text>
<text x="78" y="329.5" font-size="11" fill="#A020F0" stroke="#A020F0" textLength="40.2" lengthAdjust="spacingAndGlyphs">TK-pA-R</text>
<text x="198.1" y="84.3" font-size="9.3" fill="#A020F0" textLength="63.3" lengthAdjust="spacingAndGlyphs">(4772 .. 4791)</text>
<text x="268.5" y="84.3" font-size="11" fill="#A020F0" stroke="#A020F0" textLength="61.1" lengthAdjust="spacingAndGlyphs">pBR322ori-F</text>
<text x="416.4" y="386.1" font-size="11.2" font-weight="bold" textLength="59.4" lengthAdjust="spacingAndGlyphs">IFP2.0-N1</text>
<text x="427.8" y="398" font-size="9.4" fill="#333" textLength="37.2" lengthAdjust="spacingAndGlyphs">4978 bp</text>
<text x="731.8" y="11" font-size="12.4" fill="#d3d3d3" textLength="142.5" lengthAdjust="spacingAndGlyphs">Created with <tspan fill="#ebb9b9">Snap</tspan>Gene</text><text x="874.6" y="9.0" font-size="10" fill="#d3d3d3">&#174;</text>
<path d="M 712.1 13 Q 712.8 5 715.9 0.2 L 719.6 1.6 L 720.3 3.2 L 719.2 4.2 Q 715 8.5 712.1 13 Z" fill="#bfe3f1"/>
<path d="M 719.6 2.8 L 721.9 5.0 L 721.2 5.6 L 719.0 3.6 Z" fill="#bfe3f1"/>
<ellipse cx="721.6" cy="7.7" rx="2.1" ry="2.7" fill="#bfe3f1"/>
</svg>
</body></html>
